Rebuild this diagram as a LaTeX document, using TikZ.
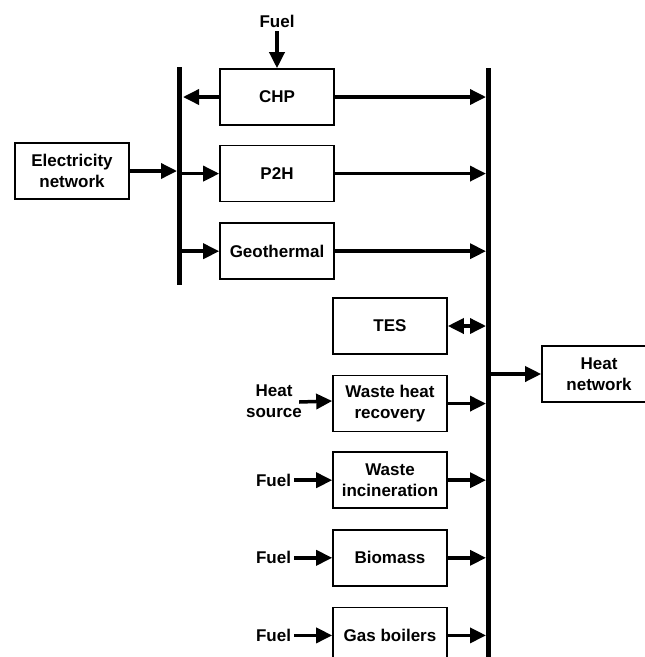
\documentclass[tikz,border=0pt]{standalone}
\usepackage{fontspec}
\setmainfont{Liberation Sans}
\usepackage{tikz}
\usetikzlibrary{arrows.meta, positioning}

\begin{document}
\begin{tikzpicture}[x=1pt, y=-1pt, node distance=20pt,
    font=\fontsize{17}{21}\selectfont\bfseries,
    unit/.style={rectangle, draw, line width=1.6pt, minimum width=114pt, minimum height=56pt, align=center, inner sep=2pt},
    lbl/.style={align=center, inner sep=3pt},
    flow/.style={-{Triangle[length=16pt, width=15pt]}, line width=3.5pt},
    both/.style={{Triangle[length=16pt, width=15pt]}-{Triangle[length=16pt, width=15pt]}, line width=3.5pt},
    bus/.style={line width=5pt}]
    \clip (0,0) rectangle (645,657);

    % buses
    \coordinate (ebustop) at (179,67);
    \coordinate (ebus) at (179,285);
    \coordinate (hbustop) at (488,68);
    \coordinate (hbus) at (488,665);
    \draw[bus] (ebustop) -- (ebus);
    \draw[bus] (hbustop) -- (hbus);

    % electricity side
    \node[unit] (chp) at (277,97) {CHP};
    \node[unit, below=19pt of chp] (p2h) {P2H};
    \node[unit, below=20pt of p2h] (geo) {Geothermal};
    \node[unit] (elec) at (72,171) {Electricity\\network};
    \node[lbl, above=37pt of chp.north] (fuelchp) {Fuel};

    % heat side
    \node[unit] (tes) at (390,326) {TES};
    \node[unit, below=20pt of tes] (whr) {Waste heat\\recovery};
    \node[unit, below=19pt of whr] (wi) {Waste\\incineration};
    \node[unit, below=20pt of wi] (bio) {Biomass};
    \node[unit, below=20pt of bio] (gas) {Gas boilers};
    \node[unit] (heat) at (599,374) {Heat\\network};

    \node[lbl] (hsrc) at (274,401) {Heat\\source};
    \node[lbl, left=38pt of wi] (fuelwi) {Fuel};
    \node[lbl, left=38pt of bio] (fuelbio) {Fuel};
    \node[lbl, left=38pt of gas] (fuelgas) {Fuel};

    % electricity flows
    \draw[flow] (fuelchp) -- (chp);
    \draw[flow, shorten >=4pt] (chp.west) -- (chp.west -| ebus);
    \draw[flow, shorten >=2pt] (elec.east) -- (elec.east -| ebus);
    \draw[flow] (p2h.west -| ebus) -- (p2h.west);
    \draw[flow] (geo.west -| ebus) -- (geo.west);

    % heat flows
    \draw[flow, shorten >=2pt] (chp.east) -- (chp.east -| hbus);
    \draw[flow, shorten >=2pt] (p2h.east) -- (p2h.east -| hbus);
    \draw[flow, shorten >=2pt] (geo.east) -- (geo.east -| hbus);
    \draw[both, shorten >=2pt] (tes.east) -- (tes.east -| hbus);
    \draw[flow, shorten >=2pt] (whr.east) -- (whr.east -| hbus);
    \draw[flow, shorten >=2pt] (wi.east) -- (wi.east -| hbus);
    \draw[flow, shorten >=2pt] (bio.east) -- (bio.east -| hbus);
    \draw[flow, shorten >=2pt] (gas.east) -- (gas.east -| hbus);
    \draw[flow] (heat.west -| hbus) -- (heat.west);

    \draw[flow] ([xshift=-6pt, yshift=-1pt]hsrc.east) -- (hsrc.east -| whr.west);
    \draw[flow] (fuelwi) -- (wi);
    \draw[flow] (fuelbio) -- (bio);
    \draw[flow] (fuelgas) -- (gas);
\end{tikzpicture}
\end{document}
